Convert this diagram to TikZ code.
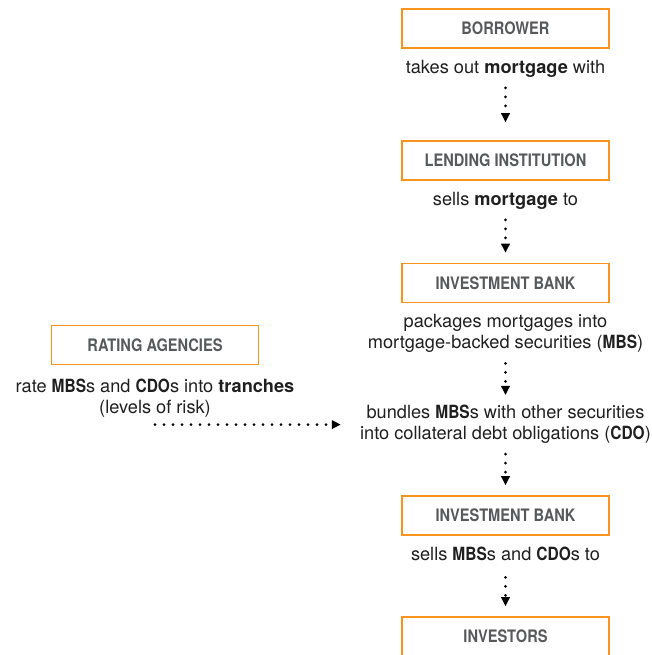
\documentclass[tikz,border=0pt]{standalone}
\usepackage{fontspec}
\setmainfont{TeX Gyre Heros}
\newfontfamily\condensed[FakeStretch=0.85]{TeX Gyre Heros}
\usetikzlibrary{positioning,arrows.meta}
\definecolor{mbsorange}{HTML}{F7941D}
\definecolor{mbsgray}{HTML}{58595B}
\newcommand{\abbr}[1]{{\condensed\bfseries #1}}

\begin{document}
\begin{tikzpicture}[x=0.5pt,y=-0.5pt,font=\fontsize{9.1}{10.5}\selectfont,
    box/.style={draw=mbsorange,line width=0.8pt,minimum width=103.5pt,minimum height=19.5pt,inner sep=0pt,text=mbsgray,font=\condensed\bfseries\fontsize{8.6}{10}\selectfont},
    note/.style={align=center,inner sep=0pt,text=black!88},
    flow/.style={line width=1.5pt,line cap=round,dash pattern=on 0pt off 4.5pt,-{Triangle[length=4.5pt,width=4.2pt]},shorten <=5pt,shorten >=5pt}]
  \useasboundingbox (0,0) rectangle (652,655);
  \node[box] (bor) at (505.5,28.5) {BORROWER};
  \node[box] (lend) at (505.5,160.5) {LENDING INSTITUTION};
  \node[box] (ib1) at (505.5,283) {INVESTMENT BANK};
  \node[box] (ib2) at (505.5,515.5) {INVESTMENT BANK};
  \node[box] (inv) at (505.5,636.5) {INVESTORS};
  \node[box] (rat) at (155,345) {RATING AGENCIES};
  \node[note,below=5.5pt of bor] (t1) {takes out \textbf{mortgage} with};
  \node[note,below=5.5pt of lend] (t2) {sells \textbf{mortgage} to};
  \node[note,below=5.5pt of ib1] (t3) {packages mortgages into\\mortgage-backed securities (\abbr{MBS})};
  \node[note,above=25.5pt of ib2] (t4) {bundles \abbr{MBS}s with other securities\\into collateral debt obligations (\abbr{CDO})};
  \node[note,below=5.5pt of ib2] (t5) {sells \abbr{MBS}s and \abbr{CDO}s to};
  \node[note,below=6.5pt of rat] (t6) {rate \abbr{MBS}s and \abbr{CDO}s into \textbf{tranches}\\(levels of risk)};
  \coordinate (r1) at (t6.south |- t4.west);
  \draw[flow,shorten >=9pt] (t1) -- (lend);
  \draw[flow] (t2) -- (ib1);
  \draw[flow] (t3) -- (t4);
  \draw[flow] (t4) -- (ib2);
  \draw[flow,shorten <=8pt] (t5) -- (inv);
  \draw[flow,shorten <=0pt,shorten >=9.5pt] (r1) -- (t4.west);
\end{tikzpicture}
\end{document}
